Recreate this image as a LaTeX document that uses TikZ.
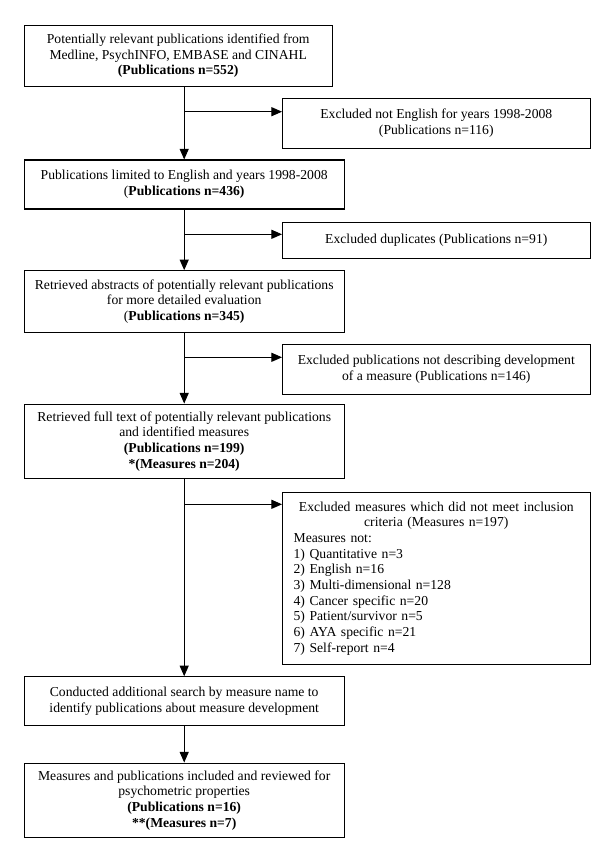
\documentclass[tikz,border=0pt]{standalone}
\usepackage{fontspec}
\setmainfont{Liberation Serif}
\usetikzlibrary{arrows.meta,calc}
\tikzset{
  box/.style={draw, line width=0.8pt, rectangle, inner sep=0pt, align=center,
    font=\fontsize{10.25}{11.75}\selectfont},
  lbox/.style={box, minimum width=239.8pt},
  rbox/.style={box, minimum width=230.6pt},
  arr/.style={line width=0.75pt, -{Triangle[length=8pt,width=6.8pt]}},
}
\begin{document}
\begin{tikzpicture}[x=0.75pt,y=-0.75pt]
\useasboundingbox (0,0) rectangle (600,853);
% main column
\node[box, minimum width=230.8pt, minimum height=45.2pt] (b1) at (178.2,55.9)
  {Potentially relevant publications identified from\\Medline, PsychINFO, EMBASE and CINAHL\\\textbf{(Publications n=552)}};
\node[lbox, minimum height=36.75pt] (b2) at (184.2,184.5)
  {Publications limited to English and years 1998-2008\\(\textbf{Publications n=436)}};
\node[lbox, minimum height=46pt] (b3) at (184.2,301.4)
  {Retrieved abstracts of potentially relevant publications\\for more detailed evaluation\\(\textbf{Publications n=345)}};
\node[lbox, minimum height=55.7pt] (b4) at (184.2,441.2)
  {Retrieved full text of potentially relevant publications\\and identified measures\\\textbf{(Publications n=199)}\\\textbf{*(Measures n=204)}};
\node[lbox, minimum height=36.2pt] (b5) at (184.2,700.9)
  {Conducted additional search by measure name to\\identify publications about measure development};
\node[lbox, minimum height=55.7pt] (b6) at (184.2,800.2)
  {Measures and publications included and reviewed for\\psychometric properties\\\textbf{(Publications n=16)}\\\textbf{**(Measures n=7)}};
% exclusion column
\node[rbox, minimum height=37.1pt] (e1) at (436.3,123.3)
  {Excluded not English for years 1998-2008\\(Publications n=116)};
\node[rbox, minimum height=26.5pt] (e2) at (436.3,240.4)
  {Excluded duplicates (Publications n=91)};
\node[rbox, minimum height=37pt] (e3) at (436.3,369.4)
  {Excluded publications not describing development\\of a measure (Publications n=146)};
\node[rbox, minimum height=129pt, inner xsep=8.25pt, text width=214pt, align=left] (e4) at (436.3,578.3)
  {{\centering Excluded measures which did not meet inclusion\\criteria (Measures n=197)\par}
   Measures not:\\
   1) Quantitative n=3\\
   2) English n=16\\
   3) Multi-dimensional n=128\\
   4) Cancer specific n=20\\
   5) Patient/survivor n=5\\
   6) AYA specific n=21\\
   7) Self-report n=4};
% junctions
\coordinate (j1) at (184.2,111.7);
\coordinate (j2) at (184.2,234.3);
\coordinate (j3) at (184.2,357.3);
\coordinate (j4) at (184.2,504.3);
% vertical arrows
\draw[arr] (b1.south -| b2.north) -- (b2.north);
\draw[arr] (b2.south) -- (b3.north);
\draw[arr] (b3.south) -- (b4.north);
\draw[arr] (b4.south) -- (b5.north);
\draw[arr] (b5.south) -- (b6.north);
% branch arrows
\draw[arr] (j1) -- (e1.west |- j1);
\draw[arr] (j2) -- (e2.west |- j2);
\draw[arr] (j3) -- (e3.west |- j3);
\draw[arr] (j4) -- (e4.west |- j4);
\end{tikzpicture}
\end{document}
